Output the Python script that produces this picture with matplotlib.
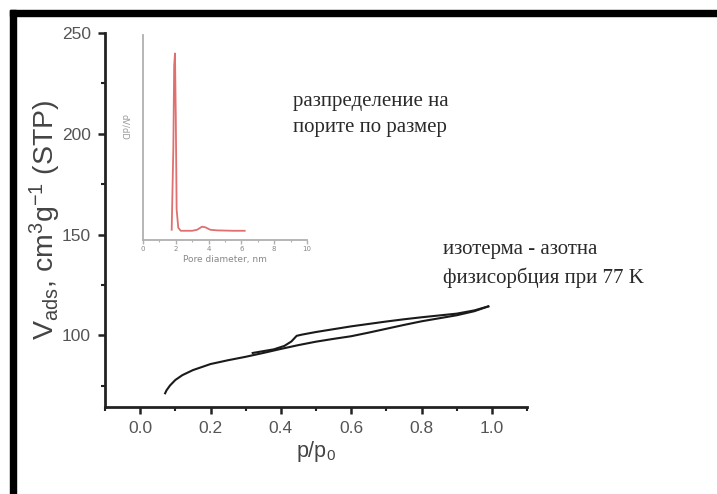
import matplotlib
matplotlib.use("Agg")
import matplotlib.pyplot as plt
from matplotlib.patches import Rectangle
from matplotlib.ticker import MultipleLocator

plt.rcParams["mathtext.fontset"] = "custom"
plt.rcParams["mathtext.rm"] = "Liberation Sans"
plt.rcParams["mathtext.it"] = "Liberation Sans"

# ---- data ----
ads_p = [0.071, 0.075, 0.085, 0.10, 0.12, 0.15, 0.20, 0.25, 0.30, 0.35, 0.40, 0.45, 0.50, 0.55, 0.60, 0.65, 0.70, 0.75, 0.80, 0.85, 0.90, 0.95, 0.99]
ads_v = [71.3, 72.8, 75.2, 77.9, 80.3, 82.8, 85.8, 87.7, 89.4, 91.3, 93.3, 95.2, 96.9, 98.3, 99.6, 101.4, 103.3, 105.2, 107.0, 108.5, 110.0, 112.0, 114.4]
des_p = [0.99, 0.95, 0.90, 0.85, 0.80, 0.75, 0.70, 0.65, 0.60, 0.55, 0.50, 0.46, 0.445, 0.43, 0.41, 0.38, 0.35, 0.32]
des_v = [114.4, 112.4, 110.8, 109.9, 109.0, 108.0, 106.9, 105.7, 104.5, 103.1, 101.7, 100.4, 99.8, 97.0, 94.8, 93.1, 92.2, 91.3]

pore_d = [1.75, 1.85, 1.90, 1.95, 2.00, 2.05, 2.15, 2.3, 2.6, 3.0, 3.3, 3.6, 3.8, 4.1, 4.5, 5.0, 5.5, 6.2]
dvdd = [0.05, 0.45, 0.85, 0.91, 0.60, 0.15, 0.06, 0.045, 0.045, 0.045, 0.05, 0.065, 0.062, 0.05, 0.047, 0.046, 0.045, 0.045]

main_xticks = [0.0, 0.2, 0.4, 0.6, 0.8, 1.0]
main_yticks = [100, 150, 200, 250]
inset_xticks = [0, 2, 4, 6, 8, 10]

label_pores = "разпределение на\nпорите по размер"
label_iso = "изотерма - азотна\nфизисорбция при 77 K"

W, H = 717, 494
fig = plt.figure(figsize=(W / 100, H / 100), dpi=100)
fig.patch.set_facecolor("white")

# decorative black frame (top and left)
fig.patches.append(Rectangle((10 / W, 1 - 16 / H), 1, 6 / H, transform=fig.transFigure,
                             color="black", zorder=10))
fig.patches.append(Rectangle((10 / W, 0), 6 / W, 1 - 10 / H, transform=fig.transFigure,
                             color="black", zorder=10))

ax = fig.add_axes([105 / W, 1 - 407 / H, 422 / W, 374 / H])
ax.plot(ads_p, ads_v, color="#1a1a1a", lw=1.5)
ax.plot(des_p, des_v, color="#1a1a1a", lw=1.5)
ax.set_xlim(-0.1, 1.1)
ax.set_ylim(64.5, 250)
ax.set_xticks(main_xticks)
ax.set_xticklabels([f"{t:.1f}" for t in main_xticks])
ax.set_yticks(main_yticks)
ax.xaxis.set_minor_locator(MultipleLocator(0.1))
ax.yaxis.set_minor_locator(MultipleLocator(25))
for s in ["top", "right"]:
    ax.spines[s].set_visible(False)
for s in ["left", "bottom"]:
    ax.spines[s].set_linewidth(2.0)
    ax.spines[s].set_color("#222222")
ax.tick_params(which="major", direction="out", length=5, width=1.8, color="#222222",
               labelsize=12.5, labelcolor="#555555", pad=5)
ax.tick_params(which="minor", direction="out", length=3, width=1.5, color="#222222")
for lab in ax.get_xticklabels() + ax.get_yticklabels():
    lab.set_family("Liberation Sans")
ax.set_xlabel("p/p$_0$", fontsize=15.5, color="#444444", family="Liberation Sans", labelpad=2)
ax.set_ylabel("V$_{ads}$, cm$^3$g$^{-1}$ (STP)", fontsize=20.5, color="#444444",
              family="Liberation Sans")
ax.yaxis.set_label_coords(-0.10, 0.50)

ax.text(293 / W, 1 - 114 / H, label_pores, transform=fig.transFigure, fontsize=15,
        family="Liberation Serif", color="#2a2a2a", va="center", ha="left", linespacing=1.5)
ax.text(443 / W, 1 - 264 / H, label_iso, transform=fig.transFigure, fontsize=15,
        family="Liberation Serif", color="#2a2a2a", va="center", ha="left", linespacing=1.5)

# inset
axi = fig.add_axes([143 / W, 1 - 240 / H, 164 / W, 205 / H])
axi.plot(pore_d, dvdd, color="#e07070", lw=1.3)
axi.set_xlim(0, 10)
axi.set_ylim(0, 1.0)
axi.set_xticks(inset_xticks)
axi.xaxis.set_minor_locator(MultipleLocator(1))
axi.set_yticks([])
for s in ["top", "right"]:
    axi.spines[s].set_visible(False)
for s in ["left", "bottom"]:
    axi.spines[s].set_linewidth(1.3)
    axi.spines[s].set_color("#b0b0b0")
axi.tick_params(which="major", direction="out", length=3, width=1, color="#b0b0b0",
                labelsize=5, labelcolor="#888888", pad=1.5)
axi.tick_params(which="minor", direction="out", length=1.5, width=0.8, color="#b0b0b0")
axi.set_xlabel("Pore diameter, nm", fontsize=6.5, color="#888888", labelpad=2)
axi.set_ylabel("dV/dD", fontsize=6, color="#999999", rotation=270, labelpad=8)
axi.yaxis.set_label_coords(-0.14, 0.55)
axi.patch.set_alpha(0)

fig.savefig("out.png", dpi=100)
